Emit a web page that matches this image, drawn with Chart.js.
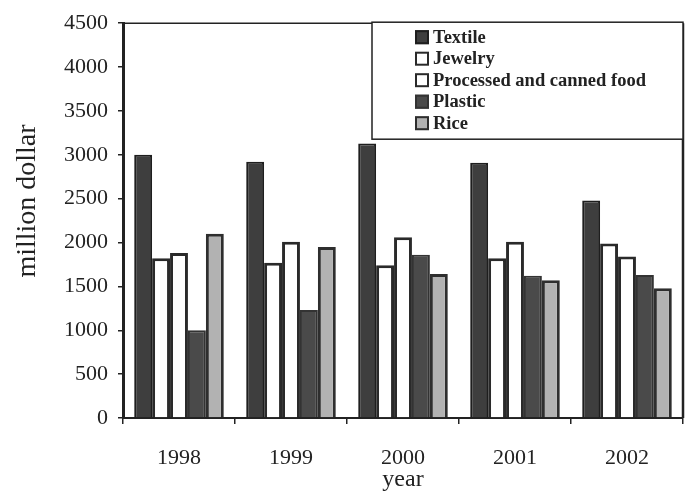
<!DOCTYPE html>
<html lang="en">
<head>
  <meta charset="UTF-8">
  <title>Exports by product, 1998-2002</title>
  <script src="https://cdn.jsdelivr.net/npm/chart.js"></script>
  <style>
    html, body { margin: 0; padding: 0; background: #fff; }
    #wrap { width: 687px; height: 494px; }
  </style>
</head>
<body>
  <div id="wrap"><canvas id="chart" width="687" height="494"></canvas></div>
  <script>
    // values (million dollar)
    const years = ['1998', '1999', '2000', '2001', '2002'];
    const textile   = [3000, 2920, 3130, 2910, 2480];
    const jewelry   = [1820, 1770, 1740, 1820, 1990];
    const processed = [1880, 2010, 2060, 2010, 1840];
    const plastic   = [1000, 1230, 1860, 1620, 1630];
    const rice      = [2100, 1950, 1640, 1570, 1480];
    const yTicks = [0, 500, 1000, 1500, 2000, 2500, 3000, 3500, 4000, 4500];

    const serif = "'Liberation Serif', 'Times New Roman', serif";
    const ink = '#222';

    // legend box + frame + y title, drawn over the plot like in the scan
    const extras = {
      id: 'extras',
      afterDraw(chart) {
        const { ctx, chartArea: a } = chart;
        ctx.save();
        // frame top / right
        ctx.strokeStyle = ink;
        ctx.lineWidth = 1.5;
        ctx.beginPath();
        ctx.moveTo(a.left, a.top);
        ctx.lineTo(a.right, a.top);
        ctx.stroke();
        ctx.lineWidth = 2.5;
        ctx.beginPath();
        ctx.moveTo(a.right, a.top);
        ctx.lineTo(a.right, a.bottom);
        ctx.stroke();

        // legend
        const bx = 372, by = a.top - 1, bw = a.right - bx, bh = 117;
        ctx.fillStyle = '#fff';
        ctx.fillRect(bx, by, bw, bh);
        ctx.lineWidth = 1.5;
        ctx.strokeRect(bx, by, bw, bh);
        ctx.font = 'bold 18.5px ' + serif;
        ctx.textBaseline = 'middle';
        chart.data.datasets.forEach((ds, i) => {
          const cy = by + 15 + i * 21.5;
          ctx.fillStyle = ds.backgroundColor;
          ctx.fillRect(415, cy - 7, 14, 14);
          ctx.strokeStyle = ds.borderColor;
          ctx.lineWidth = 2;
          ctx.strokeRect(416, cy - 6, 12, 12);
          ctx.fillStyle = ink;
          ctx.fillText(ds.label, 433, cy + 1);
        });

        // y title
        ctx.translate(28, 201);
        ctx.rotate(-Math.PI / 2);
        ctx.font = '28px ' + serif;
        ctx.textAlign = 'center';
        ctx.fillStyle = ink;
        ctx.fillText('million dollar', 0, 0);
        ctx.restore();
      }
    };

    new Chart(document.getElementById('chart'), {
      type: 'bar',
      data: {
        labels: years,
        datasets: [
          { label: 'Textile', data: textile, backgroundColor: '#3e3e3e', borderColor: '#1e1e1e', borderWidth: 2 },
          { label: 'Jewelry', data: jewelry, backgroundColor: '#ffffff', borderColor: '#2a2a2a', borderWidth: 3 },
          { label: 'Processed and canned food', data: processed, backgroundColor: '#ffffff', borderColor: '#2a2a2a', borderWidth: 3 },
          { label: 'Plastic', data: plastic, backgroundColor: '#4a4a4a', borderColor: '#333333', borderWidth: 2 },
          { label: 'Rice', data: rice, backgroundColor: '#b2b2b2', borderColor: '#2e2e2e', borderWidth: 3 }
        ]
      },
      options: {
        responsive: false,
        animation: false,
        layout: { padding: { left: 0, right: 4, top: 22, bottom: 0 } },
        datasets: { bar: { categoryPercentage: 0.8, barPercentage: 1.0 } },
        plugins: {
          legend: { display: false },
          tooltip: { enabled: false }
        },
        scales: {
          x: {
            grid: { display: true, drawOnChartArea: false, drawTicks: true, tickLength: 6, color: ink, lineWidth: 1.5 },
            border: { display: true, color: ink, width: 2 },
            ticks: { color: ink, font: { family: serif, size: 22 }, padding: 21 },
            title: { display: true, text: 'year', color: ink, font: { family: serif, size: 24 }, padding: { top: 0, bottom: 0 } },
            afterFit(s) { s.height = 76; }
          },
          y: {
            min: 0,
            max: 4500,
            afterBuildTicks(s) { s.ticks = yTicks.map(v => ({ value: v })); },
            grid: { display: true, drawOnChartArea: false, drawTicks: true, tickLength: 5, color: ink, lineWidth: 1.5 },
            border: { display: true, color: ink, width: 3 },
            ticks: { color: ink, font: { family: serif, size: 22 }, padding: 10, callback: v => String(v) },
            afterFit(s) { s.width = 123; }
          }
        }
      },
      plugins: [extras]
    });
  </script>
</body>
</html>
